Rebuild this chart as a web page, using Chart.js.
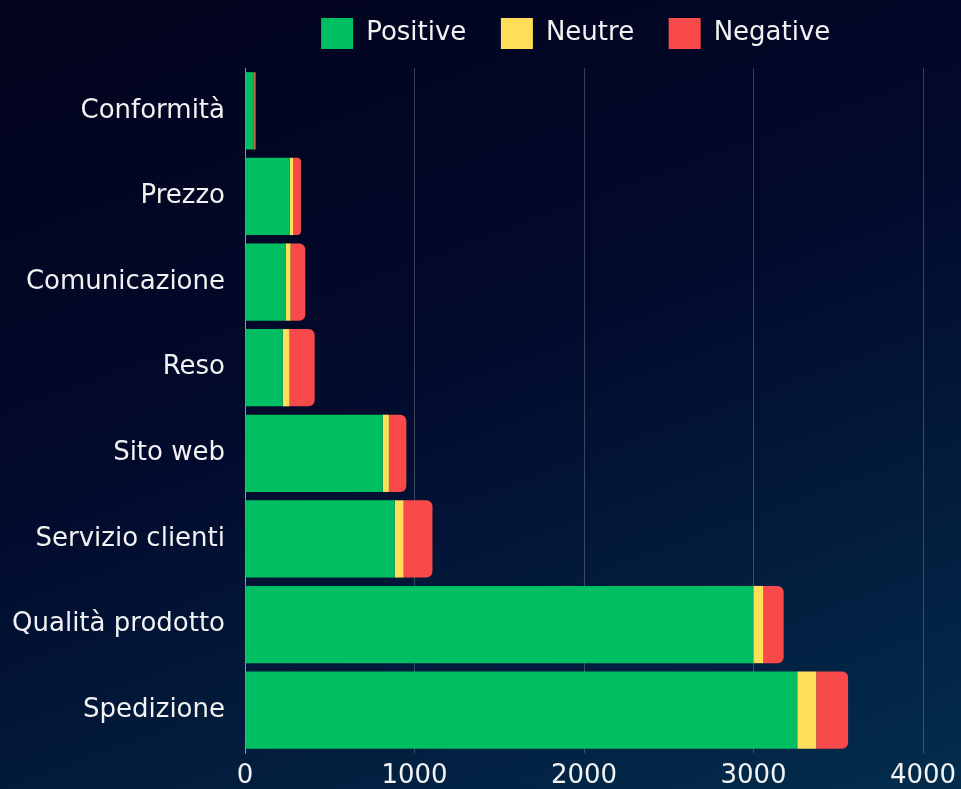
<!DOCTYPE html>
<html>
<head>
<meta charset="utf-8">
<script src="https://cdn.jsdelivr.net/npm/chart.js@4"></script>
<style>
  html, body { margin: 0; padding: 0; }
  body {
    width: 961px; height: 789px; overflow: hidden;
    background: linear-gradient(160deg, #02031c 0%, #020a2c 45%, #032d4d 100%);
  }
  #wrap { position: relative; width: 961px; height: 789px; }
</style>
</head>
<body>
<div id="wrap"><canvas id="chart"></canvas></div>
<script>
const categories = ['Conformità', 'Prezzo', 'Comunicazione', 'Reso', 'Sito web', 'Servizio clienti', 'Qualità prodotto', 'Spedizione']
const positive = [52, 263, 239, 222, 812, 883, 2999, 3258]
const neutral = [3, 22, 30, 41, 37, 53, 59, 112]
const negative = [8, 45, 87, 148, 103, 170, 120, 188]
const xTicks = [0, 1000, 2000, 3000, 4000]

const fontFamily = "'DejaVu Sans', sans-serif"
const textColor = '#f2f2f2'

function makeDataset(label, data, color) {
    return {
        label: label,
        data: data,
        backgroundColor: color,
        borderWidth: 0,
        borderRadius: 6,
        borderSkipped: 'start',
        barPercentage: 0.95,
        categoryPercentage: 0.95,
    }
}

// a bit more room under the legend
const legendSpace = {
    id: 'legendSpace',
    beforeInit(chart) {
        const fit = chart.legend.fit
        chart.legend.fit = function () {
            fit.bind(chart.legend)()
            this.height += 9
        }
    }
}

const ctx = document.getElementById('chart').getContext('2d')
const chart = new Chart(ctx, {
    type: 'bar',
    data: {
        labels: categories,
        datasets: [
            makeDataset('Positive', positive, '#00bf63'),
            makeDataset('Neutre', neutral, '#ffde59'),
            makeDataset('Negative', negative, '#f84a4a'),
        ]
    },
    plugins: [legendSpace],
    options: {
        indexAxis: 'y',
        responsive: true,
        maintainAspectRatio: false,
        animation: false,
        layout: { padding: 0 },
        plugins: {
            legend: {
                position: 'top',
                fullSize: false,
                labels: {
                    color: textColor,
                    boxWidth: 32,
                    boxHeight: 31,
                    padding: 18,
                    font: { family: fontFamily, size: 26 },
                    generateLabels: function (chart) {
                        const items = Chart.defaults.plugins.legend.labels.generateLabels(chart)
                        items.forEach(item => { item.text += '  ' })
                        return items
                    }
                }
            },
            tooltip: { enabled: false }
        },
        scales: {
            x: {
                stacked: true,
                min: 0,
                max: 4000,
                afterBuildTicks: axis => { axis.ticks = xTicks.map(v => ({ value: v })) },
                afterFit: axis => {
                    axis.height = 36
                    axis.paddingRight = 38
                },
                ticks: {
                    color: textColor,
                    padding: 8,
                    font: { family: fontFamily, size: 26 },
                    callback: value => String(value)
                },
                grid: {
                    color: 'rgba(255,255,255,0.22)',
                    drawTicks: false
                },
                border: { display: false }
            },
            y: {
                stacked: true,
                afterFit: axis => { axis.width = 245 },
                ticks: {
                    color: textColor,
                    padding: 12,
                    font: { family: fontFamily, size: 26 }
                },
                grid: { display: false },
                border: { display: true, color: 'rgba(255,255,255,0.45)' }
            }
        }
    }
})
</script>
</body>
</html>
